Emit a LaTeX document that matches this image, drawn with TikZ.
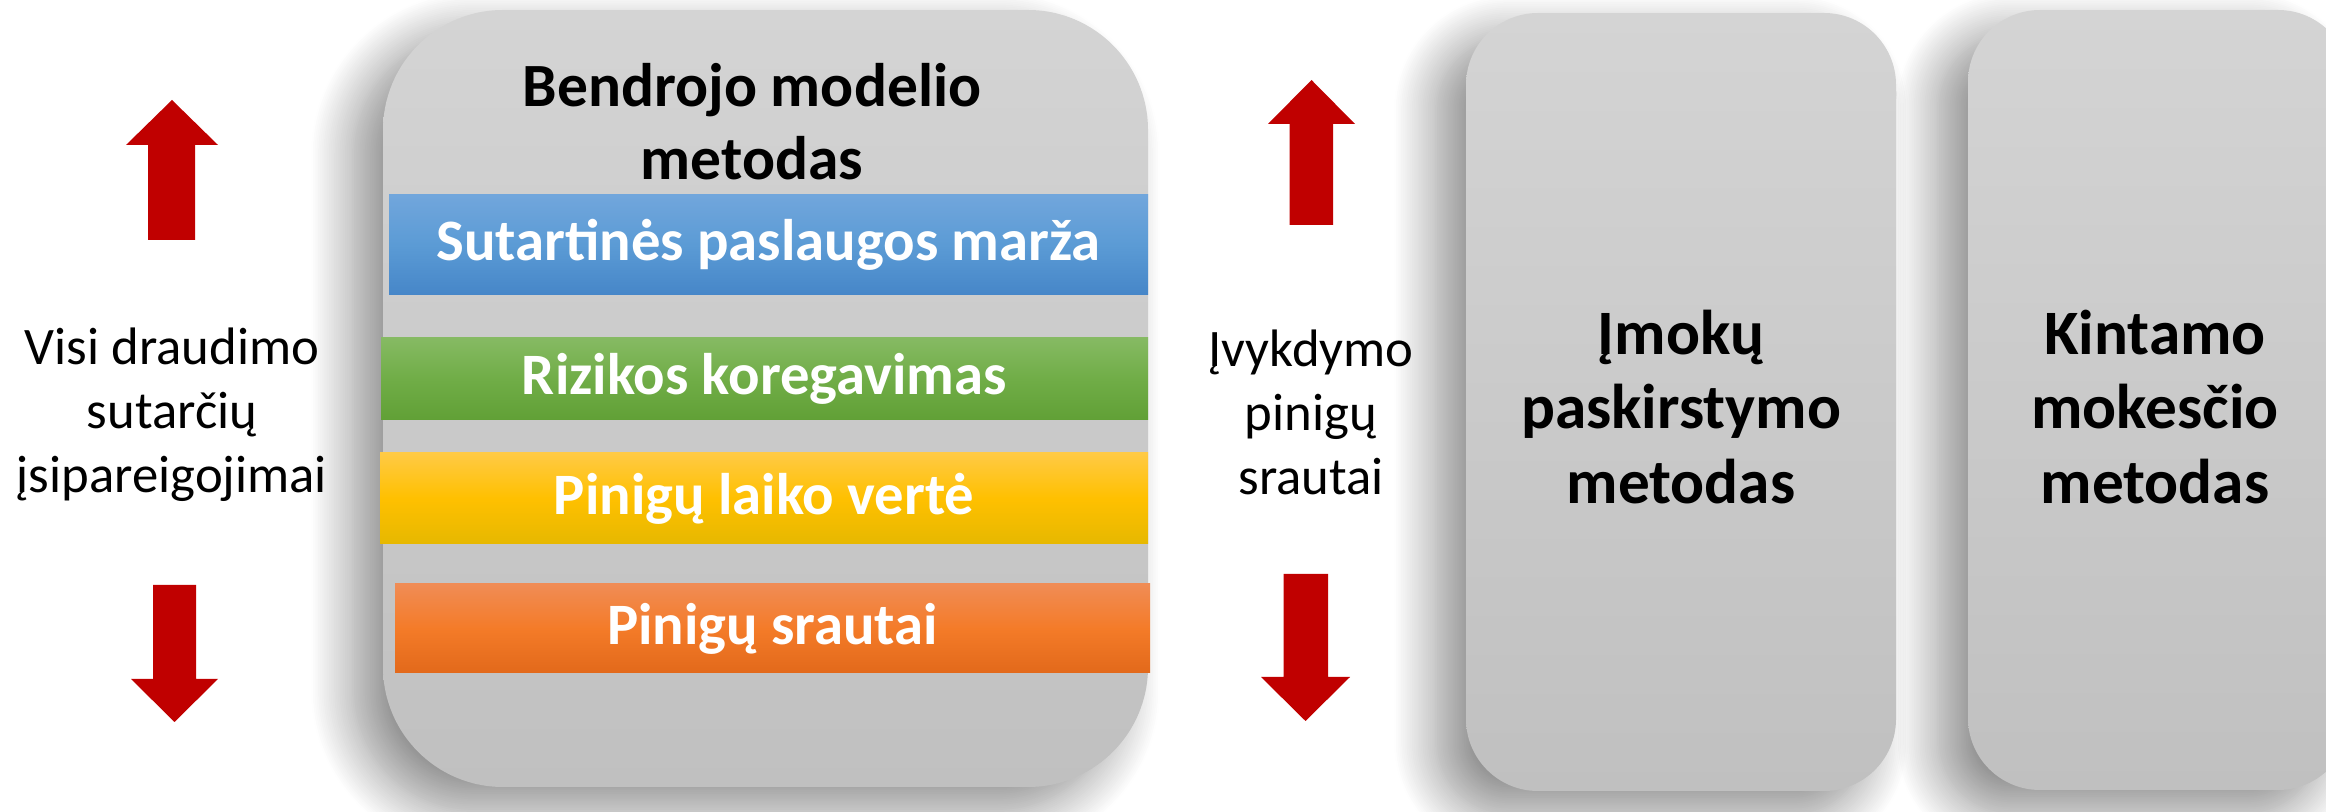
\documentclass[tikz,border=0pt]{standalone}
\usepackage{fontspec}
\setmainfont{Carlito}
\usetikzlibrary{shadows.blur}

\definecolor{GrayTop}{HTML}{D4D4D4}
\definecolor{GrayBottom}{HTML}{C0C0C0}
\definecolor{ArrowRed}{HTML}{C00000}
\definecolor{BlueTop}{HTML}{71A6DC}
\definecolor{BlueMid}{HTML}{5B9BD5}
\definecolor{BlueBot}{HTML}{4686C8}
\definecolor{GreenTop}{HTML}{86BA63}
\definecolor{GreenMid}{HTML}{70AD47}
\definecolor{GreenBot}{HTML}{61A036}
\definecolor{YellowTop}{HTML}{FFCA45}
\definecolor{YellowMid}{HTML}{FFC000}
\definecolor{YellowBot}{HTML}{E6B800}
\definecolor{OrangeTop}{HTML}{F08C55}
\definecolor{OrangeMid}{HTML}{F47B28}
\definecolor{OrangeBot}{HTML}{E2691B}

\begin{document}
\begin{tikzpicture}
[
MethodBox/.style={rectangle, draw=none, top color=GrayTop, bottom color=GrayBottom,
  blur shadow={shadow xshift=-0.3cm, shadow yshift=-0.24cm, shadow blur radius=0.42cm, shadow blur steps=24, shadow opacity=44}},
Band/.style={rectangle, draw=none, inner sep=0pt, text=white, font=\fontsize{16.7}{19}\bfseries},
BlueBand/.style={Band, top color=BlueTop, bottom color=BlueBot, middle color=BlueMid},
GreenBand/.style={Band, top color=GreenTop, bottom color=GreenBot, middle color=GreenMid},
YellowBand/.style={Band, top color=YellowTop, bottom color=YellowBot, middle color=YellowMid},
OrangeBand/.style={Band, top color=OrangeTop, bottom color=OrangeBot, middle color=OrangeMid},
SideText/.style={align=center, font=\fontsize{15}{18.2}\selectfont},
TitleText/.style={align=center, font=\fontsize{17.5}{20.8}\bfseries},
MethodText/.style={align=center, font=\fontsize{18}{21.3}\bfseries},
RedArrow/.style={fill=ArrowRed, draw=none},
]

\useasboundingbox (0,0) rectangle (23.26,-8.12);

\node[MethodBox, rounded corners=1.2cm, minimum width=7.65cm, minimum height=7.77cm] (bendras) at (7.655,-3.985) {};
\node[MethodBox, rounded corners=0.72cm, minimum width=4.30cm, minimum height=7.78cm] (imoku) at (16.81,-4.02) {};
\node[MethodBox, rounded corners=0.72cm, minimum width=3.82cm, minimum height=7.80cm] (kintamo) at (21.59,-4.00) {};

\node[TitleText] (bendrastitle) at (7.52,-1.22) {Bendrojo modelio\\metodas};

\node[BlueBand, minimum width=7.59cm, minimum height=1.00cm] (marza) at (7.685,-2.45) {Sutartinės paslaugos marža};
\node[GreenBand, minimum width=7.67cm, minimum height=0.82cm] (rizika) at (7.645,-3.79) {Rizikos koregavimas};
\node[YellowBand, minimum width=7.68cm, minimum height=0.91cm] (verte) at (7.64,-4.985) {Pinigų laiko vertė};
\node[OrangeBand, minimum width=7.55cm, minimum height=0.89cm] (srautai) at (7.725,-6.285) {Pinigų srautai};

\node[MethodText] (imokutitle) at (16.81,-4.07) {Įmokų\\paskirstymo\\metodas};
\node[MethodText] (kintamotitle) at (21.55,-4.07) {Kintamo\\mokesčio\\metodas};

\node[SideText] (visi) at (1.72,-4.15) {Visi draudimo\\sutarčių\\įsipareigojimai};
\node[SideText] (ivykdymo) at (13.11,-4.12) {Įvykdymo\\pinigų\\srautai};

% up and down arrows
\fill[RedArrow] (1.48,-2.40) -- (1.48,-1.45) -- (1.26,-1.45) -- (1.72,-1.00) -- (2.18,-1.45) -- (1.95,-1.45) -- (1.95,-2.40) -- cycle;
\fill[RedArrow] (1.53,-5.85) -- (1.53,-6.79) -- (1.31,-6.79) -- (1.745,-7.22) -- (2.18,-6.79) -- (1.96,-6.79) -- (1.96,-5.85) -- cycle;
\fill[RedArrow] (12.895,-2.25) -- (12.895,-1.24) -- (12.68,-1.24) -- (13.115,-0.80) -- (13.55,-1.24) -- (13.33,-1.24) -- (13.33,-2.25) -- cycle;
\fill[RedArrow] (12.835,-5.74) -- (12.835,-6.77) -- (12.61,-6.77) -- (13.055,-7.21) -- (13.50,-6.77) -- (13.28,-6.77) -- (13.28,-5.74) -- cycle;

\end{tikzpicture}
\end{document}
